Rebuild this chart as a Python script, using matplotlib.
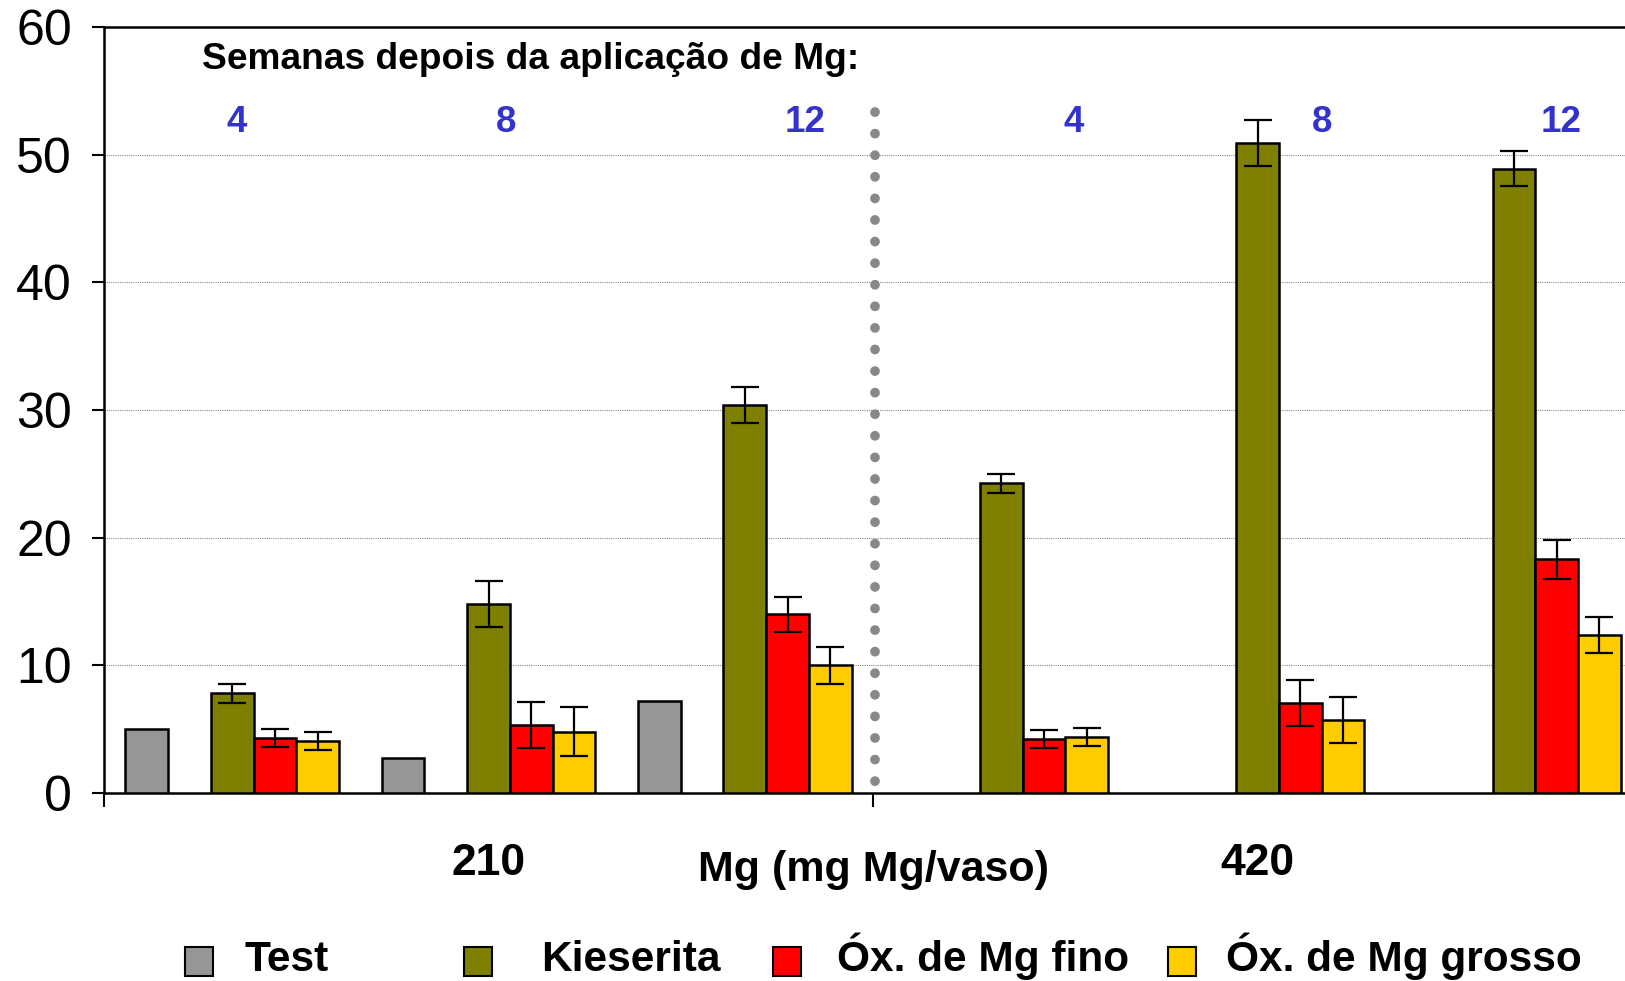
import numpy as np
import matplotlib.pyplot as plt
from matplotlib.patches import Rectangle

plt.rcParams['font.family'] = ['Liberation Sans', 'DejaVu Sans']

# Semanas depois da aplicação e doses de Mg (mg Mg/vaso)
semanas = ['4', '8', '12']
doses = ['210', '420']

# Valores por dose (linhas) e semana (colunas)
test = [[5.0, 2.75, 7.2],
        [np.nan, np.nan, np.nan]]
kieserita = [[7.8, 14.8, 30.4],
             [24.25, 50.9, 48.9]]
kieserita_err = [[0.75, 1.8, 1.4],
                 [0.75, 1.8, 1.4]]
fino = [[4.3, 5.35, 14.0],
        [4.2, 7.05, 18.3]]
fino_err = [[0.7, 1.8, 1.35],
            [0.7, 1.8, 1.5]]
grosso = [[4.1, 4.8, 10.0],
          [4.4, 5.75, 12.4]]
grosso_err = [[0.7, 1.9, 1.45],
              [0.7, 1.8, 1.4]]

nomes = ['Test', 'Kieserita', 'Óx. de Mg fino', 'Óx. de Mg grosso']
cores = ['#969696', '#808000', '#FF0000', '#FFCC00']

# posição dos rótulos azuis das semanas (em unidades do eixo x)
pos_semanas = [3.1, 9.4, 16.4, 22.7, 28.5, 34.1]

fig = plt.figure(figsize=(16.25, 9.81), dpi=100)
ax = fig.add_axes([0.064, 0.1916, 0.9465, 0.781])
ax.set_xlim(0, 36)
ax.set_ylim(0, 60)

series = [(test, None), (kieserita, kieserita_err), (fino, fino_err), (grosso, grosso_err)]
deslocamento = [1, 3, 4, 5]
for k, (vals, errs) in enumerate(series):
    vals = np.array(vals, dtype=float)
    xs = np.array([[18 * g + 6 * p + deslocamento[k] for p in range(3)] for g in range(2)], dtype=float)
    ax.bar(xs.ravel(), vals.ravel(), width=1.0, color=cores[k], edgecolor='black',
           linewidth=1.8, zorder=3)
    if errs is not None:
        ax.errorbar(xs.ravel(), vals.ravel(), yerr=np.array(errs).ravel(), fmt='none',
                    ecolor='black', elinewidth=1.6, capsize=10, capthick=1.6, zorder=4)

# grade horizontal pontilhada
for y in range(10, 60, 10):
    ax.axhline(y, color='#888888', lw=0.8, ls=(0, (1, 1)), zorder=1)

# divisória entre as duas doses (desenhada de cima para baixo)
ax.plot([18.05, 18.05], [53.35, 0.65], color='#888888', lw=7,
        ls=(0, (0.01, 2.21)), dash_capstyle='round', zorder=2)

ax.spines['right'].set_visible(False)
for s in ['left', 'top', 'bottom']:
    ax.spines[s].set_linewidth(1.8)

ax.set_yticks(range(0, 61, 10))
ax.tick_params(axis='y', labelsize=36, length=9, width=1.5, pad=14)
ax.set_xticks([0, 18, 36])
ax.set_xticklabels([])
ax.set_xticks([9, 27], minor=True)
ax.set_xticklabels(doses, minor=True, fontsize=32, fontweight='bold')
ax.tick_params(axis='x', which='major', length=10, width=1.5)
ax.tick_params(axis='x', which='minor', length=0, pad=36)

ax.text(18, -0.101, 'Mg (mg Mg/vaso)', transform=ax.get_xaxis_transform(),
        ha='center', va='center', fontsize=31, fontweight='bold')

ax.text(0.064, 0.958, 'Semanas depois da aplicação de Mg:', transform=ax.transAxes,
        ha='left', va='center', fontsize=26.7, fontweight='bold')
for x, t in zip(pos_semanas, semanas * 2):
    ax.text(x, 52.5, t, ha='center', va='center', fontsize=26.5,
            fontweight='bold', color='#3333CC')

# legenda
W, H = 1625, 981
quad_x = [185, 464, 773, 1168]
texto_x = [244, 541, 837, 1226]
for k in range(4):
    fig.add_artist(Rectangle((quad_x[k] / W, 5 / H), 28 / W, 29 / H,
                             transform=fig.transFigure, facecolor=cores[k],
                             edgecolor='black', linewidth=1.5))
    fig.text(texto_x[k] / W, 10 / H, nomes[k], ha='left', va='baseline',
             fontsize=30.5, fontweight='bold')

fig.savefig('out.png', dpi=100)
